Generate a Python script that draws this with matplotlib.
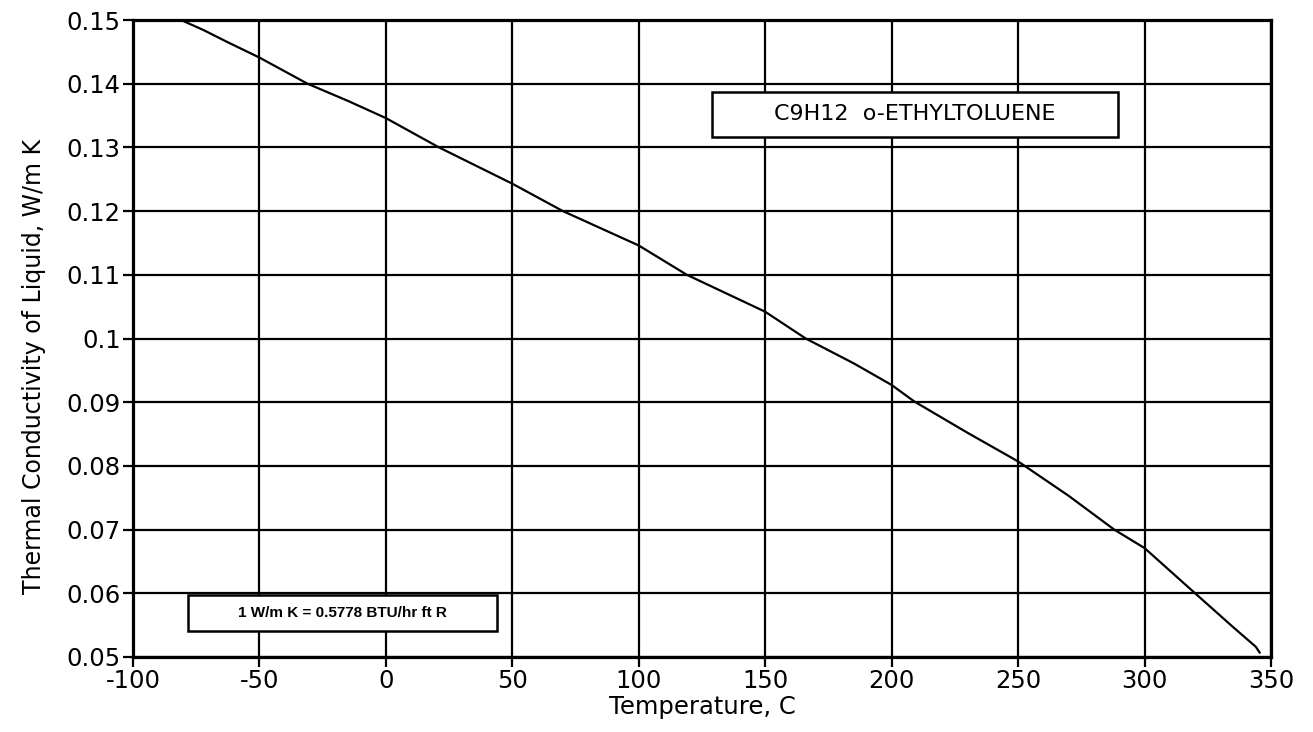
import matplotlib
matplotlib.use("Agg")
import matplotlib.pyplot as plt
from matplotlib.patches import Rectangle

temperature_c = [-81, -72, -63, -50, -31, -15, 0, 21, 50, 70, 100, 119, 150, 166, 185, 200,
                 209, 230, 250, 270, 288, 300, 320, 335, 344, 345.5]
conductivity = [0.1500, 0.1484, 0.1466, 0.1441, 0.1400, 0.1373, 0.1346, 0.1300, 0.1243, 0.1200,
                0.1146, 0.1100, 0.1042, 0.1000, 0.0961, 0.0927, 0.0901, 0.0852, 0.0807, 0.0753,
                0.0700, 0.0671, 0.0600, 0.0547, 0.0516, 0.0507]

x_ticks = [-100, -50, 0, 50, 100, 150, 200, 250, 300, 350]
y_ticks = [0.05, 0.06, 0.07, 0.08, 0.09, 0.1, 0.11, 0.12, 0.13, 0.14, 0.15]
y_tick_labels = ["0.05", "0.06", "0.07", "0.08", "0.09", "0.1", "0.11", "0.12", "0.13", "0.14", "0.15"]

plt.rcParams['font.family'] = ['DejaVu Sans']

W, H = 1313, 732
fig = plt.figure(figsize=(W/100, H/100), dpi=100)
ax = fig.add_axes([133/W, 1-657/H, (1271-133)/W, (657-20)/H])

ax.plot(temperature_c, conductivity, color='black', lw=1.6, zorder=3)

ax.set_xlim(-100, 350)
ax.set_ylim(0.05, 0.15)
ax.set_xticks(x_ticks)
ax.set_xticklabels([str(v) for v in x_ticks])
ax.set_yticks(y_ticks)
ax.set_yticklabels(y_tick_labels)
ax.grid(True, color='black', lw=1.6)
ax.set_axisbelow(True)
for s in ax.spines.values():
    s.set_linewidth(2.3)
ax.tick_params(direction='out', length=7, width=1.6, labelsize=17.5, pad=2)

ax.set_xlabel("Temperature, C", fontsize=17.5, labelpad=1)
ax.set_ylabel("Thermal Conductivity of Liquid, W/m K", fontsize=17)
ax.yaxis.set_label_coords((46 - 133) / 1138, (657 - 366) / 637)

# boxes
fig.patches.append(Rectangle((712/W, 1-137/H), (1118-712)/W, 45/H,
                             transform=fig.transFigure, fc='white', ec='black', lw=1.8, zorder=4))
fig.patches.append(Rectangle((188/W, 1-631/H), (497-188)/W, 36/H,
                             transform=fig.transFigure, fc='white', ec='black', lw=1.8, zorder=4))
fig.text((712+1118)/2/W, 1-(92+137)/2/H, "C9H12  o-ETHYLTOLUENE",
         ha='center', va='center', fontsize=16, zorder=5)
fig.text((188+497)/2/W, 1-(595+631)/2/H, "1 W/m K = 0.5778 BTU/hr ft R",
         ha='center', va='center', fontsize=11, fontweight='bold',
         family=['Liberation Sans', 'DejaVu Sans'], zorder=5)

fig.savefig("out.png", dpi=100)
